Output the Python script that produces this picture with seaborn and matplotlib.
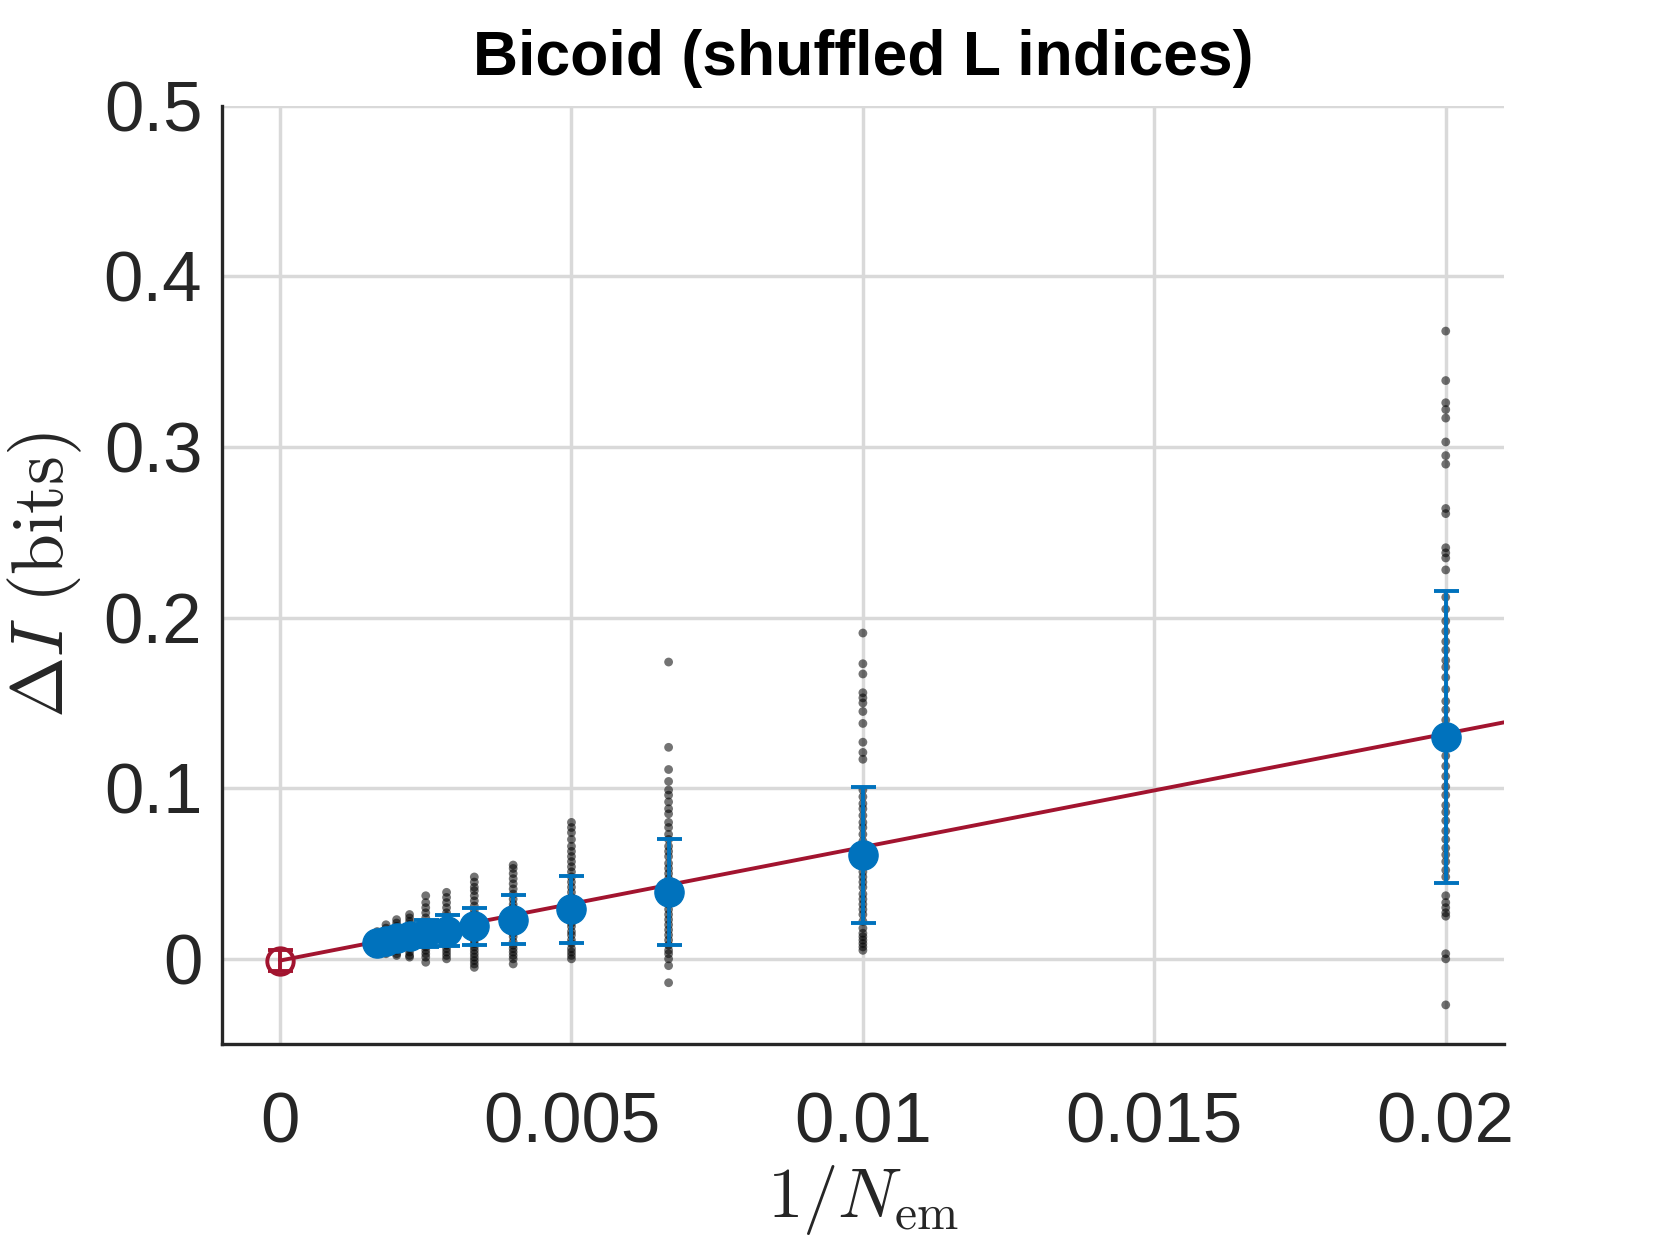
import numpy as np
import pandas as pd
import seaborn as sns
import matplotlib
matplotlib.use("Agg")
import matplotlib.pyplot as plt
from matplotlib.ticker import FuncFormatter

# inverse ensemble sizes (1/N_em)
inv_n = [1 / 50, 1 / 100, 1 / 150, 1 / 200, 1 / 250, 1 / 300,
         1 / 350, 1 / 400, 1 / 450, 1 / 500, 1 / 550, 1 / 600]

# mean delta I at each 1/N and its std
mean_di = [0.130, 0.061, 0.039, 0.029, 0.023, 0.019,
           0.0165, 0.015, 0.0135, 0.012, 0.0105, 0.0095]
std_di = [0.0855, 0.040, 0.031, 0.0195, 0.0145, 0.011,
          0.009, 0.008, 0.006, 0.005, 0.004, 0.0035]

# individual samples, one list per 1/N value
samples = [
    [0.368, 0.339, 0.326, 0.322, 0.317, 0.303, 0.295, 0.290, 0.264, 0.261,
     0.241, 0.238, 0.235, 0.228, 0.212, 0.205, 0.198, 0.192, 0.186, 0.181,
     0.175, 0.171, 0.165, 0.158, 0.151, 0.146, 0.140, 0.133, 0.126, 0.119,
     0.113, 0.107, 0.101, 0.096, 0.090, 0.086, 0.081, 0.075, 0.070, 0.065,
     0.061, 0.057, 0.052, 0.048, 0.037, 0.033, 0.030, 0.027, 0.025, 0.003,
     0.000, -0.027],
    [0.191, 0.173, 0.167, 0.156, 0.153, 0.150, 0.145, 0.138, 0.127, 0.121,
     0.117, 0.099, 0.095, 0.091, 0.088, 0.084, 0.080, 0.077, 0.073, 0.069,
     0.066, 0.062, 0.058, 0.055, 0.051, 0.048, 0.045, 0.042, 0.038, 0.035,
     0.032, 0.029, 0.026, 0.022, 0.018, 0.015, 0.013, 0.011, 0.009, 0.007,
     0.005],
    [0.174, 0.124, 0.111, 0.104, 0.099, 0.096, 0.092, 0.088, 0.085, 0.080,
     0.077, 0.073, 0.070, 0.066, 0.063, 0.060, 0.056, 0.053, 0.050, 0.047,
     0.044, 0.041, 0.038, 0.035, 0.032, 0.029, 0.026, 0.023, 0.020, 0.017,
     0.014, 0.011, 0.008, 0.005, 0.003, 0.000, -0.004, -0.014],
    [0.080, 0.077, 0.074, 0.070, 0.066, 0.063, 0.060, 0.057, 0.054, 0.051,
     0.048, 0.045, 0.042, 0.039, 0.036, 0.034, 0.031, 0.029, 0.026, 0.024,
     0.021, 0.019, 0.016, 0.014, 0.011, 0.009, 0.006, 0.004, 0.002, 0.000],
    [0.055, 0.053, 0.050, 0.047, 0.044, 0.041, 0.038, 0.035, 0.032, 0.030,
     0.027, 0.025, 0.022, 0.020, 0.018, 0.015, 0.013, 0.010, 0.008, 0.006,
     0.004, 0.002, 0.000, -0.003],
    [0.048, 0.045, 0.042, 0.040, 0.037, 0.034, 0.031, 0.028, 0.026, 0.023,
     0.021, 0.019, 0.017, 0.015, 0.013, 0.011, 0.009, 0.007, 0.005, 0.003,
     0.001, -0.001, -0.003, -0.005],
    [0.039, 0.036, 0.033, 0.030, 0.027, 0.025, 0.022, 0.020, 0.018, 0.016,
     0.014, 0.012, 0.010, 0.008, 0.006, 0.004, 0.002, 0.000],
    [0.037, 0.033, 0.030, 0.027, 0.024, 0.021, 0.019, 0.017, 0.015, 0.013,
     0.011, 0.009, 0.007, 0.005, 0.003, 0.001, -0.002],
    [0.026, 0.024, 0.022, 0.020, 0.018, 0.016, 0.014, 0.012, 0.010, 0.008,
     0.006, 0.004, 0.002, 0.001],
    [0.023, 0.021, 0.019, 0.017, 0.015, 0.013, 0.011, 0.009, 0.007, 0.005,
     0.003, 0.002],
    [0.020, 0.018, 0.016, 0.014, 0.012, 0.010, 0.008, 0.006, 0.004, 0.003],
    [0.016, 0.014, 0.012, 0.010, 0.008, 0.006, 0.005, 0.004],
]

# linear extrapolation to infinite data
fit_intercept = -0.001
fit_intercept_err = 0.006
fit_slope = 6.65
fit_x = [0, 0.021]

x_ticks = [0, 0.005, 0.01, 0.015, 0.02]
y_ticks = [0, 0.1, 0.2, 0.3, 0.4, 0.5]

blue = "#0072BD"
red = "#A2142F"

sns.set_theme(style="whitegrid")
plt.rcParams['font.family'] = ['Liberation Sans', 'DejaVu Sans']
plt.rcParams['mathtext.fontset'] = 'cm'

# long table of the samples
rows = []
for xv, vals in zip(inv_n, samples):
    for v in vals:
        rows.append({"x": xv, "dI": v})
df = pd.DataFrame(rows)

fig = plt.figure(figsize=(16.61, 12.46), dpi=100)
ax = fig.add_axes([0.1335, 0.162, 0.772, 0.753])

sns.scatterplot(data=df, x="x", y="dI", ax=ax, color="black", alpha=0.55,
                s=40, edgecolor="none", zorder=3)

line_df = pd.DataFrame({"x": fit_x,
                        "y": [fit_intercept + fit_slope * v for v in fit_x]})
sns.lineplot(data=line_df, x="x", y="y", ax=ax, color=red, lw=2.8, zorder=4)

ax.errorbar(inv_n, mean_di, yerr=std_di, fmt="o", color=blue, ms=21,
            elinewidth=2.8, capsize=9, capthick=2.8, zorder=5)
ax.errorbar([0], [fit_intercept], yerr=[fit_intercept_err], fmt="o",
            mfc="none", mec=red, color=red, ms=19, mew=2.8,
            elinewidth=2.8, capsize=9, capthick=2.8, zorder=6)

ax.set_xlim(-0.001, 0.021)
ax.set_ylim(-0.05, 0.5)
ax.set_xticks(x_ticks)
ax.set_yticks(y_ticks)
ax.xaxis.set_major_formatter(FuncFormatter(lambda v, p: f"{v:g}"))
ax.yaxis.set_major_formatter(FuncFormatter(lambda v, p: f"{v:g}"))

ax.grid(True, color="#d9d9d9", lw=2.5)
for s in ["top", "right"]:
    ax.spines[s].set_visible(False)
for s in ["left", "bottom"]:
    ax.spines[s].set_color("#262626")
    ax.spines[s].set_linewidth(2.4)
ax.tick_params(axis="both", direction="in", length=12, width=2.4,
               colors="#262626", labelsize=51, pad=14)
ax.tick_params(axis="x", pad=34)

ax.set_xlabel(r"$1/N_{\mathrm{em}}$", fontsize=51, color="#262626", labelpad=4)
ax.set_ylabel(r"$\Delta I\ \mathrm{(bits)}$", fontsize=53, color="#262626",
              labelpad=14)
ax.set_title("Bicoid (shuffled L indices)", fontsize=45, fontweight="bold",
             color="black", pad=22)

fig.savefig("out.png", dpi=100)
